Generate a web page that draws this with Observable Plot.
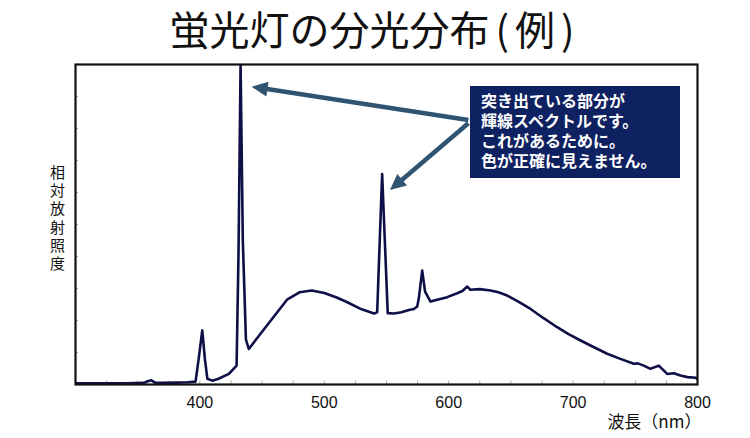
<!DOCTYPE html>
<html><head><meta charset="utf-8">
<script src="https://cdn.jsdelivr.net/npm/d3@7"></script>
<script src="https://cdn.jsdelivr.net/npm/@observablehq/plot@0.6"></script>
<style>
body{margin:0;background:#fff;font-family:"Noto Sans CJK JP","Noto Sans",sans-serif;}
#wrap{position:relative;width:750px;height:438px;overflow:hidden;}
#title{position:absolute;left:0;top:0;width:750px;height:58px;line-height:57px;text-align:center;font-size:40px;color:#111;white-space:nowrap;}
#title .p{display:inline-block;margin:0 6px;}
#chart{padding-top:52px;}
#note{position:absolute;left:470px;top:86px;width:199px;height:88px;padding:4px 0 0 11px;background:#0e2160;color:#fff;font-weight:bold;font-size:16px;line-height:20px;}
</style></head>
<body><div id="wrap">
<div id="title">蛍光灯の分光分布<span class="p">(</span>例<span class="p">)</span></div>
<div id="chart"></div>
<div id="note">突き出ている部分が<br>輝線スペクトルです。<br>これがあるために。<br>色が正確に見えません。</div>
</div>
<script>
const wavelengths = [300,320,340,355,358,361,364,370,380,390,396.5,399,401.9,404,406,410,415,423.3,429.5,431,432.7,434.5,437,439.3,445,452,460,470,480,490,500,510,518.5,530,540,542.5,546.5,551,556,562,568,572,574.7,576,578.7,581,585.4,590,598.8,606.8,611,614.9,617.5,625,633.6,640,647,656,665.8,676,687.2,696,706,716,727.4,738,748.8,752,756.8,762.2,768.9,775.6,781,786.3,792,798.4,800];
const irradiance = [0.4,0.4,0.4,0.5,1.0,1.3,0.6,0.5,0.6,0.7,0.9,8,16.9,8,1.8,1.2,1.8,3.3,5.9,40,100,45,14,11.1,14,17.5,21.5,26.5,28.8,29.4,28.6,27.2,25.7,23.5,22.2,22.6,65.8,22.3,22.2,22.6,23.3,23.6,24.4,27,35.6,29,25.9,26.4,27.3,28.5,29.2,30.6,29.6,29.8,29.4,28.8,27.8,25.9,23.6,20.8,17.9,15.8,13.75,11.8,9.6,8.0,6.5,6.6,5.9,4.9,5.9,3.3,3.5,2.8,2.3,2.1,1.8];
const xTicks = [400,500,600,700,800];
const xMinorTicks = [325,350,375,400,425,450,475,500,525,550,575,600,625,650,675,700,725,750,775];
const yMinorTicks = [10,20,30,40,50,60,70,80,90];
const xLabel = "波長（nm）";
const yLabel = "相対放射照度";
// annotation arrows: tail (x1,y1) -> tip (x2,y2) in data units
const arrowX1 = [616.2, 616.2];
const arrowY1 = [82.5, 81.5];
const arrowX2 = [442, 553.2];
const arrowY2 = [92.9, 60.6];

const spectrum = wavelengths.map((w,i)=>({w, v: irradiance[i]}));
const arrows = arrowX1.map((x1,i)=>({x1, y1: arrowY1[i], x2: arrowX2[i], y2: arrowY2[i]}));

function arrowMark(index, scales) {
  const ns = "http://www.w3.org/2000/svg";
  const g = document.createElementNS(ns, "g");
  for (const a of arrows) {
    const x1 = scales.x(a.x1), y1 = scales.y(a.y1), x2 = scales.x(a.x2), y2 = scales.y(a.y2);
    const dx = x2 - x1, dy = y2 - y1, L = Math.hypot(dx, dy), ux = dx / L, uy = dy / L;
    const hl = 16, hw = 7.5;
    const bx = x2 - ux * hl, by = y2 - uy * hl;
    const line = document.createElementNS(ns, "line");
    line.setAttribute("x1", x1); line.setAttribute("y1", y1);
    line.setAttribute("x2", bx + ux * 2); line.setAttribute("y2", by + uy * 2);
    line.setAttribute("stroke", "#2f5472"); line.setAttribute("stroke-width", 4.5);
    g.appendChild(line);
    const p = document.createElementNS(ns, "polygon");
    p.setAttribute("points", `${x2},${y2} ${bx - uy*hw},${by + ux*hw} ${bx + uy*hw},${by - ux*hw}`);
    p.setAttribute("fill", "#2f5472");
    g.appendChild(p);
  }
  return g;
}

const chart = Plot.plot({
  width: 750,
  height: 386,
  marginLeft: 75,
  marginRight: 53,
  marginTop: 12,
  marginBottom: 54,
  style: {fontFamily: '"Liberation Sans", Arial, sans-serif', fontSize: "16px", color: "#111"},
  x: {domain: [300, 800], ticks: xTicks, tickSize: 0, tickPadding: 12, label: null},
  y: {domain: [0, 100], axis: null},
  marks: [
    Plot.ruleX(xMinorTicks, {y1: 0, y2: 1.1, stroke: "#aaa", strokeWidth: 1}),
    Plot.ruleY(yMinorTicks, {x1: 300, x2: 302.5, stroke: "#aaa", strokeWidth: 1}),
    Plot.line(spectrum, {x: "w", y: "v", stroke: "#0f0f48", strokeWidth: 2.6, clip: true}),
    Plot.frame({stroke: "#111", strokeWidth: 2.2}),
    Plot.text([xLabel], {frameAnchor: "bottom-right", dy: 43, dx: 4, textAnchor: "end", fontSize: 17, fontFamily: '"Noto Sans CJK JP", sans-serif'}),
    Plot.text([yLabel.split("").join("\n")], {frameAnchor: "left", dx: -18, dy: -7, textAnchor: "middle", lineHeight: 1.22, fontSize: 15, fontFamily: '"Noto Sans CJK JP", sans-serif'}),
    arrowMark
  ]
});
document.getElementById("chart").appendChild(chart);
</script>
</body></html>
